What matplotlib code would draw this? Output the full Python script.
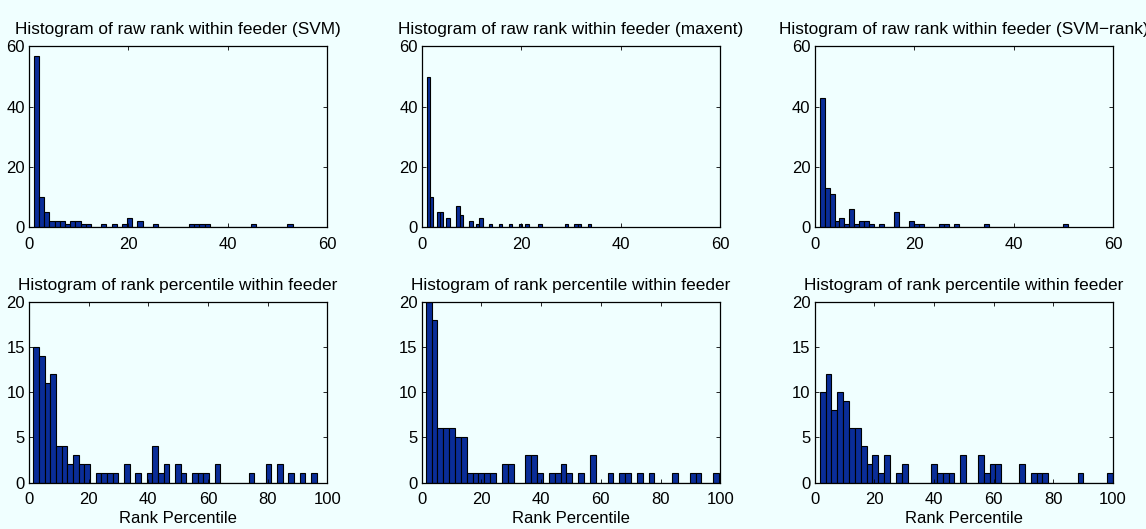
import matplotlib
matplotlib.use("Agg")
import matplotlib.pyplot as plt
import numpy as np

plt.rcParams['font.family'] = ['Liberation Sans', 'DejaVu Sans']

# counts per bin (50 bins each)
n_bins = 50

svm_raw = [57, 10, 5, 2, 2, 2, 1, 2, 2, 1,
           1, 0, 0, 1, 0, 1, 0, 1, 3, 0,
           2, 0, 0, 1, 0, 0, 0, 0, 0, 0,
           1, 1, 1, 1, 0, 0, 0, 0, 0, 0,
           0, 0, 1, 0, 0, 0, 0, 0, 0, 1]
maxent_raw = [50, 10, 0, 5, 5, 0, 3, 0, 0, 7,
              4, 0, 0, 2, 0, 1, 3, 0, 0, 1,
              0, 0, 1, 0, 0, 1, 0, 0, 1, 0,
              1, 0, 0, 0, 1, 0, 0, 0, 0, 0,
              0, 0, 1, 0, 0, 1, 1, 0, 0, 1]
svmrank_raw = [43, 13, 11, 2, 3, 1, 6, 1, 2, 2,
               1, 0, 1, 0, 0, 5, 0, 0, 2, 1,
               1, 0, 0, 0, 1, 1, 0, 1, 0, 0,
               0, 0, 0, 1, 0, 0, 0, 0, 0, 0,
               0, 0, 0, 0, 0, 0, 0, 0, 0, 1]

svm_pct = [15, 14, 11, 12, 4, 4, 2, 3, 2, 2,
           0, 1, 1, 1, 1, 0, 2, 0, 1, 0,
           1, 4, 1, 2, 0, 2, 1, 0, 1, 1,
           1, 0, 2, 0, 0, 0, 0, 0, 1, 0,
           0, 2, 0, 2, 0, 1, 0, 1, 0, 1]
maxent_pct = [20, 18, 6, 6, 6, 5, 5, 1, 1, 1,
              1, 1, 0, 2, 2, 0, 0, 3, 3, 1,
              0, 1, 1, 2, 1, 0, 1, 0, 3, 0,
              0, 1, 0, 1, 1, 0, 1, 0, 1, 0,
              0, 0, 1, 0, 0, 1, 1, 0, 0, 1]
svmrank_pct = [10, 12, 8, 10, 9, 6, 6, 4, 2, 3,
               1, 3, 0, 1, 2, 0, 0, 0, 0, 2,
               1, 1, 1, 0, 3, 0, 0, 3, 1, 2,
               2, 0, 0, 0, 2, 0, 1, 1, 1, 0,
               0, 0, 0, 0, 1, 0, 0, 0, 0, 1]

# data range (min, max) of each histogram
raw_lo = [1, 1, 1]
raw_hi = [53, 34, 51]
pct_lo = [1.45, 1.3, 1.7]
pct_hi = [96.4, 99.6, 99.9]

raw_titles = ["Histogram of raw rank within feeder (SVM)",
              "Histogram of raw rank within feeder (maxent)",
              "Histogram of raw rank within feeder (SVM\u2212rank)"]
pct_title = "Histogram of rank percentile within feeder"
pct_xlabel = "Rank Percentile"

bg = '#f0ffff'
bar_color = '#0a2d98'

fig, axes = plt.subplots(2, 3, figsize=(11.46, 5.29), dpi=100)
fig.patch.set_facecolor(bg)
fig.subplots_adjust(left=0.0253, right=0.9712, top=0.9121, bottom=0.0879,
                    wspace=0.3165, hspace=0.4175)

top_counts = [svm_raw, maxent_raw, svmrank_raw]
bot_counts = [svm_pct, maxent_pct, svmrank_pct]


def draw_hist(ax, counts, lo, hi):
    edges = np.linspace(lo, hi, n_bins + 1)
    ax.bar(edges[:-1], counts, width=np.diff(edges), align='edge',
           color=bar_color, edgecolor='black', linewidth=0.8)
    ax.set_facecolor(bg)
    ax.tick_params(direction='in', top=True, right=True, length=3,
                   width=0.6, labelsize=12)
    ax.tick_params(axis='x', pad=7)
    ax.tick_params(axis='y', pad=3)
    for s in ax.spines.values():
        s.set_linewidth(0.9)


for i in range(3):
    ax = axes[0, i]
    draw_hist(ax, top_counts[i], raw_lo[i], raw_hi[i])
    ax.set_xlim(0, 60)
    ax.set_ylim(0, 60)
    ax.set_xticks([0, 20, 40, 60])
    ax.set_yticks([0, 20, 40, 60])
    ax.set_title(raw_titles[i], fontsize=12.4, pad=9)

    ax = axes[1, i]
    draw_hist(ax, bot_counts[i], pct_lo[i], pct_hi[i])
    ax.set_xlim(0, 100)
    ax.set_ylim(0, 20)
    ax.set_xticks([0, 20, 40, 60, 80, 100])
    ax.set_yticks([0, 5, 10, 15, 20])
    ax.set_title(pct_title, fontsize=12.4, pad=9)
    ax.set_xlabel(pct_xlabel, fontsize=12, labelpad=3)

fig.savefig("out.png", dpi=100, facecolor=bg)
